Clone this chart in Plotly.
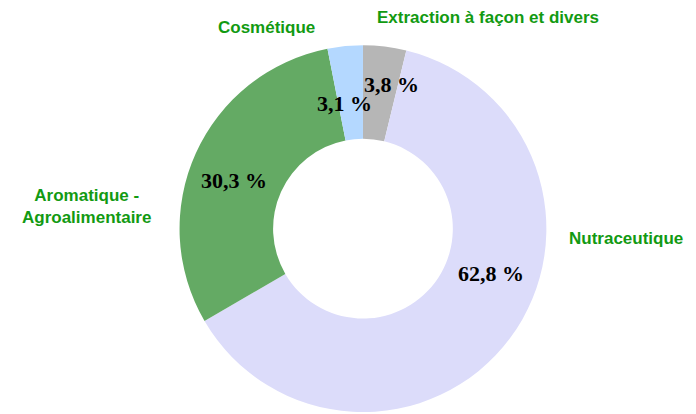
import plotly.graph_objects as go

categories = ["Extraction à façon et divers", "Nutraceutique", "Aromatique - Agroalimentaire", "Cosmétique"]
label_texts = ["Extraction à façon et divers", "Nutraceutique", "Aromatique -<br>Agroalimentaire", "Cosmétique"]
values = [3.8, 62.8, 30.3, 3.1]
value_texts = ["3,8 %", "62,8 %", "30,3 %", "3,1 %"]
colors = ["#b6b6b6", "#dcdcfa", "#64aa64", "#b4d8ff"]

W, H = 696, 414
fig = go.Figure()
fig.add_trace(go.Pie(
    labels=categories,
    values=values,
    sort=False,
    direction="clockwise",
    rotation=0,
    hole=0.49,
    marker=dict(colors=colors, line=dict(width=0)),
    textinfo="none",
    showlegend=False,
    domain=dict(x=[0.245, 0.775], y=[0.024, 0.91]),
))

# outside category labels (x, y in px from top-left; anchor)
label_pos = [(480, 10, "center"), (677, 230, "right"), (78, 198, "center"), (258, 20, "center")]
for t, (x, y, anc) in zip(label_texts, label_pos):
    fig.add_annotation(x=x / W, y=1 - y / H, xref="paper", yref="paper", text="<b>" + t + "</b>",
                       showarrow=False, xanchor=anc, yanchor="middle",
                       font=dict(family="Liberation Sans, Arial", size=17, color="#129a12"),
                       align="center")

# value labels
value_pos = [(383, 76), (483, 265), (226, 172), (336, 95)]
for t, (x, y) in zip(value_texts, value_pos):
    fig.add_annotation(x=x / W, y=1 - y / H, xref="paper", yref="paper", text="<b>" + t + "</b>",
                       showarrow=False, xanchor="center", yanchor="middle",
                       font=dict(family="Liberation Serif, Times New Roman", size=22, color="#000000"))

fig.update_layout(
    width=W, height=H,
    margin=dict(l=0, r=0, t=0, b=0),
    paper_bgcolor="white", plot_bgcolor="white",
)
fig.write_html("out.html")
